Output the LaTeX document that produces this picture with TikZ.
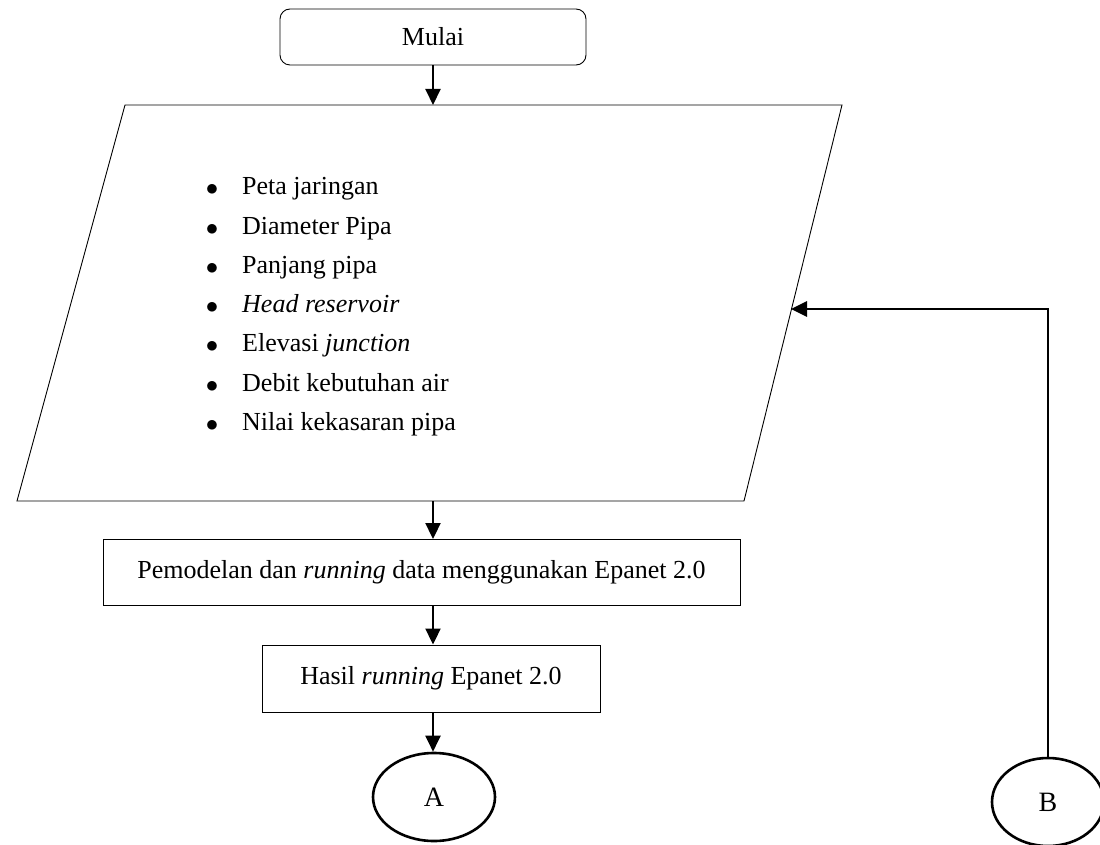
\documentclass[tikz,border=0pt]{standalone}
\usepackage{fontspec}
\setmainfont{Liberation Serif}
\usetikzlibrary{arrows.meta,shapes.geometric}

\tikzset{
	startbox/.style = {draw, rounded corners=10pt, line width=0.9pt, minimum width=306pt, minimum height=56pt},
	procbox/.style = {draw, line width=0.9pt, minimum height=66pt},
	connector/.style = {ellipse, draw, line width=2.6pt, inner sep=0pt},
	flow/.style = {line width=2pt, -{Triangle[length=16pt,width=15pt]}},
	backflow/.style = {line width=2.8pt, -{Triangle[length=16pt,width=15pt]}}
}

\begin{document}
\begin{tikzpicture}[x=1pt, y=-1pt, font=\fontsize{26}{39}\selectfont]
	\useasboundingbox (0,0) rectangle (1100,845);
	\node[startbox] (mulai) at (433,37) {Mulai};
	% input data (parallelogram)
	\coordinate (pTL) at (125,105);
	\coordinate (pTR) at (842,105);
	\coordinate (pBR) at (744,501);
	\coordinate (pBL) at (17,501);
	\coordinate (intop) at (433,105);
	\coordinate (inbot) at (433,501);
	\coordinate (inright) at (791,309);
	\draw[line width=0.9pt] (pTL) -- (pTR) -- (pBR) -- (pBL) -- cycle;
	\foreach \txt [count=\i] in {Peta jaringan, Diameter Pipa, Panjang pipa, {\textit{Head reservoir}}, {Elevasi \textit{junction}}, Debit kebutuhan air, Nilai kekasaran pipa} {
		\node[anchor=base, font=\fontsize{33}{39}\selectfont] (dot\i) at (212,{196+39.2*(\i-1)}) {$\bullet$};
		\node[anchor=base west, inner sep=0pt] (data\i) at (242,{195+39.2*(\i-1)}) {\txt};
	}
	\node[procbox, minimum width=637pt] (model) at (421.5,572.5) {Pemodelan dan \textit{running} data menggunakan Epanet 2.0};
	\node[procbox, minimum width=338pt, minimum height=67pt] (hasil) at (431,678.5) {Hasil \textit{running} Epanet 2.0};
	\node[connector, minimum width=122pt, minimum height=88pt, font=\fontsize{28}{39}\selectfont] (A) at (434,797) {A};
	\node[connector, minimum width=112pt, minimum height=88pt, font=\fontsize{28}{39}\selectfont] (B) at (1048,802) {B};
	\draw[flow] (mulai.south) -- (intop);
	\draw[flow] (inbot) -- (inbot |- model.north);
	\draw[flow] (model.south -| intop) -- (hasil.north -| intop);
	\draw[flow] (hasil.south -| intop) -- (A.north -| intop);
	\draw[backflow] (B.north) |- (inright);
\end{tikzpicture}
\end{document}
